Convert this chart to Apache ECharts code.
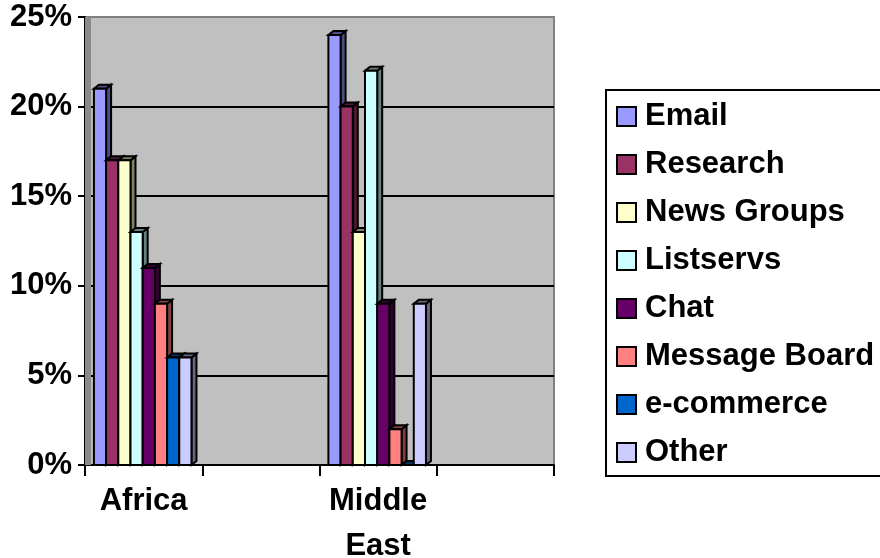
<!DOCTYPE html>
<html>
<head>
<meta charset="utf-8">
<title>Online activities by region</title>
<script src="https://cdn.jsdelivr.net/npm/echarts@6/dist/echarts.min.js"></script>
<style>
  html, body { margin: 0; padding: 0; background: #fff; }
  #chart { width: 880px; height: 558px; }
</style>
</head>
<body>
<div id="chart"></div>
<script>
// Regions on the category axis (two unlabeled slots follow each region)
const categories = ['Africa', '', 'Middle East', ''];

// Share of users (%) per activity, one value per category slot
const seriesNames = ['Email', 'Research', 'News Groups', 'Listservs', 'Chat', 'Message Board', 'e-commerce', 'Other'];
const email        = [21, null, 24, null];
const research     = [17, null, 20, null];
const newsGroups   = [17, null, 13, null];
const listservs    = [13, null, 22, null];
const chat         = [11, null, 9, null];
const messageBoard = [9, null, 2, null];
const eCommerce    = [6, null, 0, null];
const other        = [6, null, 9, null];
const seriesValues = [email, research, newsGroups, listservs, chat, messageBoard, eCommerce, other];

// Value axis ticks
const yMin = 0, yMax = 25, yStep = 5;

const palette = ['#9999FF', '#993366', '#FFFFCC', '#CCFFFF', '#660066', '#FF8080', '#0066CC', '#CCCCFF'];
const FONT = '"Liberation Sans", Arial, sans-serif';

function shade(hex, f) {
  const n = parseInt(hex.slice(1), 16);
  const r = Math.round(((n >> 16) & 255) * f);
  const g = Math.round(((n >> 8) & 255) * f);
  const b = Math.round((n & 255) * f);
  return 'rgb(' + r + ',' + g + ',' + b + ')';
}

// Pseudo-3D column: front face, side face and top face
function columnRenderer(idx, color) {
  const dark = shade(color, 0.5);
  return function (params, api) {
    const cat = api.value(0);
    const val = api.value(1);
    const band = api.size([1, 0])[0];
    const base = api.coord([cat, 0]);
    const top = api.coord([cat, val]);
    const bw = band * 0.104;
    const dx = 5, dy = 4;
    const x0 = base[0] - band / 2 + band * 0.076 + idx * bw;
    const x1 = x0 + bw;
    const yb = base[1], yt = top[1];
    const stroke = { stroke: '#000', lineWidth: 2, lineJoin: 'miter' };
    return {
      type: 'group',
      children: [
        { type: 'polygon', shape: { points: [[x1, yt], [x1 + dx, yt - dy], [x1 + dx, yb - dy], [x1, yb]] },
          style: Object.assign({ fill: dark }, stroke) },
        { type: 'polygon', shape: { points: [[x0, yt], [x0 + dx, yt - dy], [x1 + dx, yt - dy], [x1, yt]] },
          style: Object.assign({ fill: dark }, stroke) },
        { type: 'rect', shape: { x: x0, y: yt, width: bw, height: yb - yt },
          style: Object.assign({ fill: color }, stroke) }
      ]
    };
  };
}

const series = [
  {
    // left side wall of the plot area
    type: 'custom',
    name: '__wall',
    silent: true,
    z: 1,
    data: [[0]],
    renderItem: function (params, api) {
      const cs = params.coordSys;
      return {
        type: 'rect',
        shape: { x: cs.x, y: cs.y, width: 6, height: cs.height },
        style: { fill: '#8a8a8a' }
      };
    }
  }
];

seriesNames.forEach(function (name, i) {
  const data = [];
  seriesValues[i].forEach(function (v, c) {
    if (v !== null) data.push([c, v]);
  });
  series.push({
    type: 'custom',
    name: name,
    z: 2,
    itemStyle: { color: palette[i], borderColor: '#000', borderWidth: 2 },
    encode: { x: 0, y: 1 },
    data: data,
    renderItem: columnRenderer(i, palette[i])
  });
});

const chart = echarts.init(document.getElementById('chart'), null, { renderer: 'canvas' });
chart.setOption({
  animation: false,
  backgroundColor: '#fff',
  grid: {
    left: 85, right: 326, top: 17, bottom: 93,
    outerBoundsMode: 'none',
    containLabel: false,
    show: true,
    backgroundColor: '#C0C0C0',
    borderColor: '#808080',
    borderWidth: 2
  },
  legend: {
    data: seriesNames,
    orient: 'vertical',
    left: 606,
    top: 90,
    padding: [11, 12, 8, 10],
    itemGap: 17,
    itemWidth: 19,
    itemHeight: 19,
    icon: 'rect',
    backgroundColor: '#fff',
    borderColor: '#000',
    borderWidth: 2,
    borderRadius: 0,
    textStyle: {
      fontFamily: FONT, fontSize: 31, fontWeight: 'bold', color: '#000',
      lineHeight: 31, padding: [0, 0, 0, 4]
    }
  },
  xAxis: {
    type: 'category',
    data: categories,
    boundaryGap: true,
    axisLine: { lineStyle: { color: '#000', width: 2 } },
    axisTick: { show: true, length: 11, lineStyle: { color: '#000', width: 2 } },
    axisLabel: {
      interval: 0,
      margin: 14,
      fontFamily: FONT, fontSize: 31, fontWeight: 'bold', color: '#000',
      lineHeight: 45,
      formatter: function (v) { return v.replace(' ', '\n'); }
    },
    splitLine: { show: false }
  },
  yAxis: {
    type: 'value',
    min: yMin, max: yMax, interval: yStep,
    axisLine: { show: true, lineStyle: { color: '#000', width: 2 } },
    axisTick: { show: true, length: 7, lineStyle: { color: '#000', width: 2 } },
    axisLabel: {
      margin: 13,
      fontFamily: FONT, fontSize: 31, fontWeight: 'bold', color: '#000',
      formatter: '{value}%'
    },
    splitLine: {
      show: true,
      lineStyle: { color: ['#000', '#000', '#000', '#000', '#000', '#808080'], width: 2 }
    }
  },
  series: series
});
</script>
</body>
</html>
